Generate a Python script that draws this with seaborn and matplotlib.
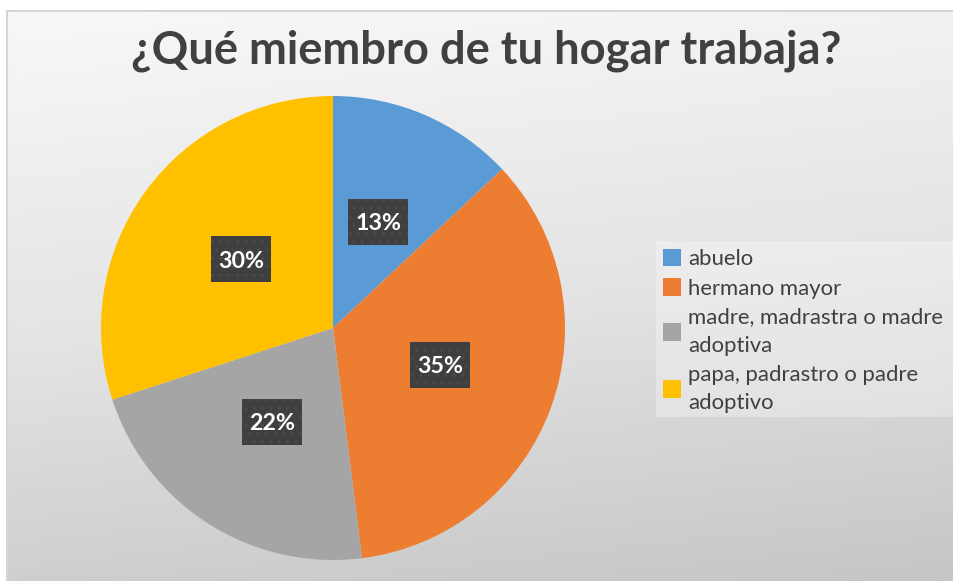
import numpy as np
import matplotlib
matplotlib.use("Agg")
import matplotlib.pyplot as plt
from matplotlib.colors import LinearSegmentedColormap
from matplotlib.patches import Patch, Rectangle
import seaborn as sns

# ---- data ----
categories = ["abuelo", "hermano mayor",
              "madre, madrastra o madre\nadoptiva",
              "papa, padrastro o padre\nadoptivo"]
values = [13, 35, 22, 30]
colors = ["#5B9BD5", "#ED7D31", "#A5A5A5", "#FFC000"]
title = "¿Qué miembro de tu hogar trabaja?"

sns.set_theme(style="white")
plt.rcParams['font.family'] = ['Lato', 'DejaVu Sans']
plt.rcParams['hatch.linewidth'] = 1.0
palette = sns.color_palette(colors)

W, H = 954, 581
fig = plt.figure(figsize=(W / 100, H / 100), dpi=100)
fig.patch.set_facecolor('white')


def fr(x, y, w, h):
    return [x / W, 1 - (y + h) / H, w / W, h / H]


# background gradient panel
bg = fig.add_axes(fr(7, 11, W - 7, H - 11))
yy, xx = np.mgrid[0:1:300j, 0:1:300j]
grad = 0.85 * yy + 0.15 * xx
cmap = LinearSegmentedColormap.from_list("g", ["#f8f8f8", "#e4e4e4", "#c6c6c6"])
bg.imshow(grad, cmap=cmap, aspect='auto', origin='upper', extent=[0, 1, 0, 1])
bg.set_xlim(0, 1)
bg.set_ylim(0, 1)
bg.axis('off')
bg.plot([0, 1], [1, 1], color='#d4d4d4', lw=1.5, transform=bg.transAxes, clip_on=False)
bg.plot([0, 0], [0, 1], color='#d4d4d4', lw=1.5, transform=bg.transAxes, clip_on=False)

# legend background panel
fig.patches.append(Rectangle((656 / W, 1 - 417 / H), (W - 656) / W, (417 - 241) / H,
                             transform=fig.transFigure, fc='white', alpha=0.3,
                             ec='none', zorder=1))

# pie
ax = fig.add_axes(fr(101, 96, 464, 464))
wedges, texts, autotexts = ax.pie(
    values, colors=palette, startangle=90, counterclock=False, radius=1,
    autopct=lambda p: f"{p:.0f}%", pctdistance=0.49,
    wedgeprops=dict(linewidth=0),
    textprops=dict(color='white', fontweight='bold', fontsize=17,
                   zorder=5))
ax.set_xlim(-1, 1)
ax.set_ylim(-1, 1)
ax.set_aspect('equal')
ax.axis('off')

# title
ttl = fig.text(486.5 / W, 1 - 63 / H, title, ha='center', va='baseline',
               fontsize=34, fontweight='bold', color='#404040')

# legend
handles = [Patch(facecolor=c, edgecolor='none') for c in palette]


def make_legend(fs, ls, lsp):
    lg = fig.legend(handles, categories, loc='upper left',
                    bbox_to_anchor=(656 / W, 1 - 242 / H), frameon=False,
                    fontsize=fs, handlelength=0.85, handleheight=0.85,
                    handletextpad=0.3, labelspacing=ls,
                    borderpad=0.3, borderaxespad=0)
    for t in lg.get_texts():
        t.set_color('#404040')
        t.set_linespacing(lsp)
    return lg


leg = make_legend(15, 0.4, 1.2)
fig.canvas.draw()
r = fig.canvas.get_renderer()

# fit text sizes to the reference
w = ttl.get_window_extent(r).width
ttl.set_fontsize(34 * 713 / w)
w2 = leg.get_texts()[1].get_window_extent(r).width
leg_fs = 15 * 153 / w2
leg.remove()
leg = make_legend(leg_fs, 0.4, 1.2)
fig.canvas.draw()
h1 = leg.get_texts()[0].get_window_extent(r).height
h2 = leg.get_texts()[2].get_window_extent(r).height
lsp = 1.2 * 29 / (h2 - h1)
fs_px = leg_fs * 100 / 72
ls = max(29 - h1, 0) / fs_px
leg.remove()
leg = make_legend(leg_fs, ls, lsp)

w3 = autotexts[0].get_window_extent(r).width
for t in autotexts:
    t.set_fontsize(17 * 46 / w3)
fig.canvas.draw()

# dark label boxes centred on each percentage label (drawn under the text)
for t in autotexts:
    bb = t.get_window_extent(r)
    cx, cy = (bb.x0 + bb.x1) / 2, (bb.y0 + bb.y1) / 2 + 2
    ax.add_patch(Rectangle(((cx - 30) / W, (cy - 23) / H), 60 / W, 46 / H,
                           transform=fig.transFigure, fc='#3f3f3f',
                           ec='#4a4a4a', lw=0, hatch='..', zorder=4,
                           clip_on=False))

fig.savefig("out.png", dpi=100, facecolor=fig.get_facecolor())
